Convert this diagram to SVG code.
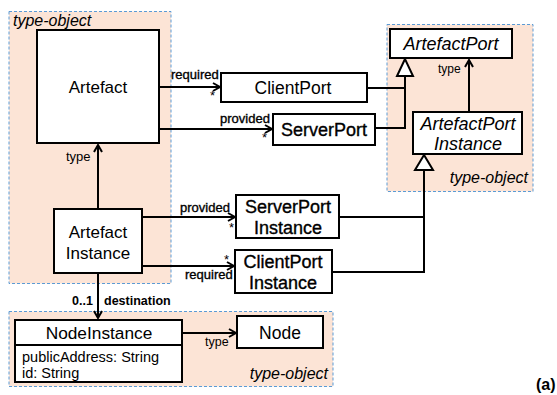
<svg xmlns="http://www.w3.org/2000/svg" width="557" height="395" viewBox="0 0 557 395">
<defs>
<style>
text{font-family:"Liberation Sans",Arial,sans-serif;fill:#000}
.grp{fill:#FCE4D6;stroke:#5B9BD5;stroke-width:1;stroke-dasharray:3,2}
.box{fill:#fff;stroke:#000;stroke-width:2}
.ln{fill:none;stroke:#000;stroke-width:2}
.gl{fill:#fff;stroke:#000;stroke-width:2}
.c{text-anchor:middle}
.it{font-style:italic}
.lbl{font-size:13px}
.dark{stroke:#000;stroke-width:0.35}
.gt{font-size:16px;font-style:italic}
</style>
<marker id="arr" markerWidth="10" markerHeight="10" refX="8" refY="5" orient="auto" markerUnits="userSpaceOnUse">
<path d="M1,1 L8,5 L1,9" fill="none" stroke="#000" stroke-width="2"/>
</marker>
</defs>
<g id="group-left">
<rect class="grp" x="9" y="11.5" width="162" height="272"/>
<text class="gt" x="13" y="26">type-object</text>
</g>
<g id="group-right">
<rect class="grp" x="387" y="24.5" width="146" height="167"/>
<text class="gt" x="528" y="183" text-anchor="end">type-object</text>
</g>
<g id="group-bottom">
<rect class="grp" x="9" y="311.5" width="324" height="75"/>
<text class="gt" x="328" y="379" text-anchor="end">type-object</text>
</g>
<g id="connectors">
<line class="ln" x1="98" y1="209" x2="98" y2="145" marker-end="url(#arr)"/>
<text class="lbl" x="66" y="161">type</text>
<line class="ln" x1="159" y1="87" x2="220" y2="87" marker-end="url(#arr)"/>
<text class="lbl dark" x="171" y="79">required</text>
<text class="lbl" x="210" y="100">*</text>
<line class="ln" x1="159" y1="129" x2="272" y2="129" marker-end="url(#arr)"/>
<text class="lbl dark" x="220" y="123">provided</text>
<text class="lbl" x="262" y="142">*</text>
<polyline class="ln" points="367,88 405,88"/>
<polyline class="ln" points="375,128 405,128 405,75"/>
<polygon class="gl" points="405,59 397,76 413,76"/>
<line class="ln" x1="469" y1="112" x2="469" y2="60" marker-end="url(#arr)"/>
<text x="438" y="73" font-size="12">type</text>
<polyline class="ln" points="339,217 424,217"/>
<polyline class="ln" points="332,272 424,272 424,169"/>
<polygon class="gl" points="424,155 415,170 433,170"/>
<line class="ln" x1="142" y1="217" x2="235" y2="217" marker-end="url(#arr)"/>
<text class="lbl dark" x="180" y="212">provided</text>
<text class="lbl" x="229" y="232">*</text>
<line class="ln" x1="142" y1="266" x2="234" y2="266" marker-end="url(#arr)"/>
<text class="lbl" x="224" y="264">*</text>
<text class="lbl dark" x="185" y="279">required</text>
<line class="ln" x1="98" y1="273" x2="98" y2="318" marker-end="url(#arr)"/>
<text x="72" y="305" font-size="12.5" font-weight="bold">0..1</text>
<text x="104" y="305" font-size="12.5" font-weight="bold">destination</text>
<line class="ln" x1="182" y1="333" x2="236" y2="333" marker-end="url(#arr)"/>
<text x="205" y="346" font-size="12.5">type</text>
</g>
<g id="Artefact">
<rect class="box" x="37" y="30" width="122" height="113"/>
<text class="c" x="98" y="93" font-size="17">Artefact</text>
</g>
<g id="ArtefactInstance">
<rect class="box" x="54" y="209" width="88" height="64"/>
<text class="c" x="98" y="238" font-size="17">Artefact</text>
<text class="c" x="98" y="259" font-size="17">Instance</text>
</g>
<g id="ClientPort">
<rect class="box" x="221" y="73" width="146" height="29"/>
<text class="c" x="293" y="94" font-size="17.5">ClientPort</text>
</g>
<g id="ServerPort">
<rect class="box" x="273" y="114" width="102" height="31"/>
<text class="c dark" x="324" y="136" font-size="18">ServerPort</text>
</g>
<g id="ArtefactPort">
<rect class="box" x="390" y="29" width="122" height="29"/>
<text class="c it" x="451" y="50" font-size="18">ArtefactPort</text>
</g>
<g id="ArtefactPortInstance">
<rect class="box" x="413" y="112" width="109" height="42"/>
<text class="c it" x="468" y="130" font-size="18">ArtefactPort</text>
<text class="c it" x="468" y="150" font-size="18">Instance</text>
</g>
<g id="ServerPortInstance">
<rect class="box" x="236" y="195" width="103" height="43"/>
<text class="c dark" x="288" y="213" font-size="18">ServerPort</text>
<text class="c dark" x="288" y="234" font-size="18">Instance</text>
</g>
<g id="ClientPortInstance">
<rect class="box" x="235" y="250" width="97" height="43"/>
<text class="c dark" x="283" y="268" font-size="18">ClientPort</text>
<text class="c dark" x="283" y="289" font-size="18">Instance</text>
</g>
<g id="NodeInstance">
<rect class="box" x="15" y="320" width="167" height="62"/>
<line class="ln" x1="15" y1="345" x2="182" y2="345"/>
<text class="c" x="99" y="339" font-size="17.3">NodeInstance</text>
<text x="22" y="362" font-size="14.5">publicAddress: String</text>
<text x="22" y="378" font-size="14.5">id: String</text>
</g>
<g id="Node">
<rect class="box" x="237" y="316" width="86" height="32"/>
<text class="c" x="280" y="339" font-size="17.5">Node</text>
</g>
<text x="536" y="390" font-size="16" font-weight="bold">(a)</text>
</svg>
